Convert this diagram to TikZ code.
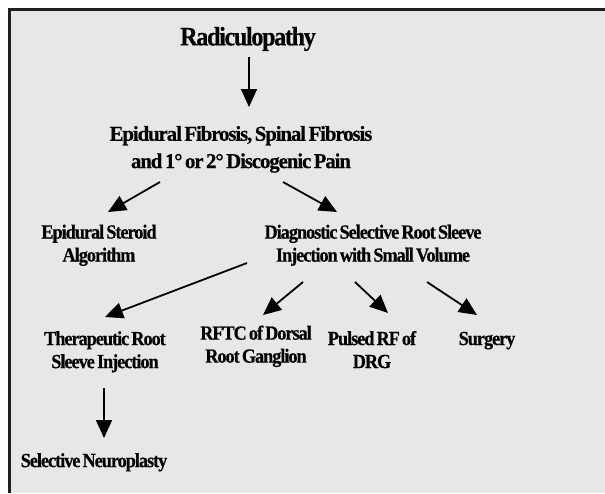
\documentclass[tikz,border=0pt]{standalone}
\usepackage{fontspec}
\setmainfont{Liberation Serif}[FakeStretch=0.91,LetterSpace=-5,FakeBold=0.5,WordSpace=0.6]
\newfontfamily\headfont{Liberation Serif}[FakeStretch=0.98,LetterSpace=-5,FakeBold=0.5,WordSpace=0.6]
\usepackage{tikz}
\usetikzlibrary{arrows.meta}
\definecolor{pgray}{HTML}{E6E7E8}
\definecolor{pframe}{HTML}{231F20}

\begin{document}
\begin{tikzpicture}[x=1pt,y=-1pt,
  box/.style={font=\bfseries\fontsize{20}{23}\selectfont,align=center,inner sep=0pt},
  head/.style={box,font=\headfont\bfseries\fontsize{21.2}{27.3}\selectfont},
  root/.style={box,font=\bfseries\fontsize{26.5}{30}\selectfont},
  arr/.style={-{Triangle[length=18pt,width=16pt]},line width=1.8pt}]
\useasboundingbox (0,0) rectangle (605,493);
\fill[pgray] (8,8) rectangle (605,493);
\draw[pframe,line width=3pt] (9.5,493) -- (9.5,9.5) -- (605,9.5);
% levels
\node[root] (rad)  at (248,39)    {Radiculopathy};
\node[head] (fib)  at (241,149.4) {Epidural Fibrosis, Spinal Fibrosis\\and 1° or 2° Discogenic Pain};
\node[box]  (eps)  at (99,245.3)  {Epidural Steroid\\Algorithm};
\node[box]  (dsr)  at (373,245.3) {Diagnostic Selective Root Sleeve\\Injection with Small Volume};
\node[box]  (trs)  at (105,351.8) {Therapeutic Root\\Sleeve Injection};
\node[box]  (rftc) at (256,346.3) {RFTC of Dorsal\\Root Ganglion};
\node[box]  (prf)  at (372,349.6) {Pulsed RF of\\DRG};
\node[box]  (sur)  at (487,340.6) {Surgery};
\node[box]  (sne)  at (94,462.3)  {Selective Neuroplasty};
% arrows
\draw[arr] ([shift={(1,18)}]rad.center) -- ([shift={(8,-42.4)}]fib.center);
\draw[arr] ([shift={(-81,32.6)}]fib.center) -- ([shift={(9,-33.3)}]eps.center);
\draw[arr] ([shift={(42,32.6)}]fib.center) -- ([shift={(-36,-33.3)}]dsr.center);
\draw[arr] ([shift={(-126,17.7)}]dsr.center) -- ([shift={(0,-34.8)}]trs.center);
\draw[arr] ([shift={(-70,36.7)}]dsr.center) -- ([shift={(7,-31.3)}]rftc.center);
\draw[arr] ([shift={(-18,36.7)}]dsr.center) -- ([shift={(16,-36.6)}]prf.center);
\draw[arr] ([shift={(54,36.7)}]dsr.center) -- ([shift={(-10,-25.6)}]sur.center);
\draw[arr] ([shift={(-1,36.2)}]trs.center) -- ([shift={(10,-24.3)}]sne.center);
\end{tikzpicture}
\end{document}
